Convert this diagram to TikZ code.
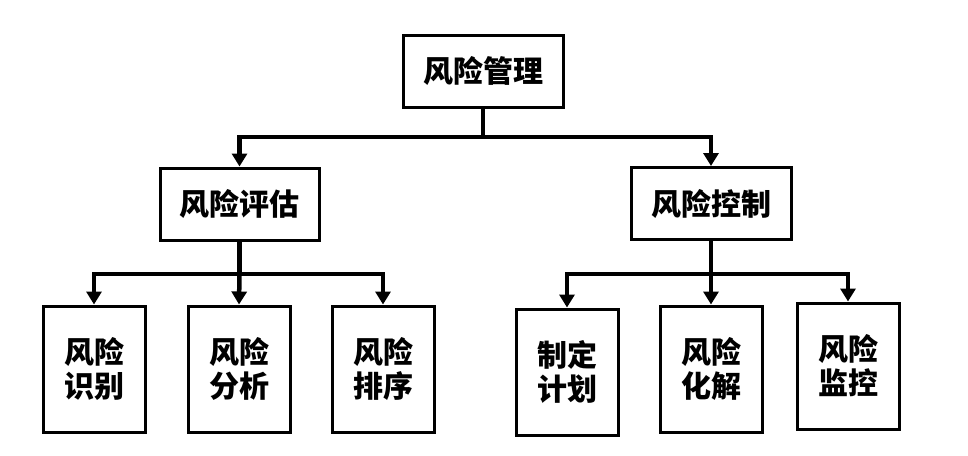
\documentclass[tikz,border=0pt]{standalone}
\usepackage{fontspec}
\newfontfamily\cjk{Noto Sans CJK SC}
\usetikzlibrary{arrows.meta}
\begin{document}
\begin{tikzpicture}[x=1pt,y=-1pt,
  box/.style={draw=black,line width=3pt,fill=white,inner sep=0pt,align=center,
    font=\cjk\bfseries\fontsize{30}{34}\selectfont},
  topbox/.style={box,minimum width=160pt,minimum height=72pt},
  leafbox/.style={box,minimum width=102pt,minimum height=126pt},
  conn/.style={line width=4.5pt,line join=miter},
  arr/.style={conn,-{Triangle[width=15pt,length=13pt]}}]
\useasboundingbox (0,0) rectangle (968,455);
\node[topbox] (root) at (483,71) {风险管理};
\node[topbox,minimum width=159pt] (L1) at (239.5,204) {风险评估};
\node[topbox] (R1) at (711,203.5) {风险控制};
\node[leafbox] (a) at (94,369) {风险\\识别};
\node[leafbox] (b) at (239,369) {风险\\分析};
\node[leafbox] (c) at (383,369) {风险\\排序};
\node[leafbox] (d) at (567,372) {制定\\计划};
\node[leafbox] (e) at (711,369) {风险\\化解};
\node[leafbox] (f) at (848,366) {风险\\监控};
\coordinate (j0) at (483,137);
\coordinate (jl) at (239.5,274);
\coordinate (jr) at (711,274);
\draw[conn] (root.south) -- (j0);
\draw[arr] (j0) -| (L1.north);
\draw[arr] (j0) -| (R1.north);
\draw[conn] (L1.south) -- (jl);
\draw[arr] (jl) -| (a.north);
\draw[arr] (jl) -- (b.north);
\draw[arr] (jl) -| (c.north);
\draw[conn] (R1.south) -- (jr);
\draw[arr] (jr) -| (d.north);
\draw[arr] (jr) -- (e.north);
\draw[arr] (jr) -| (f.north);
\end{tikzpicture}
\end{document}
